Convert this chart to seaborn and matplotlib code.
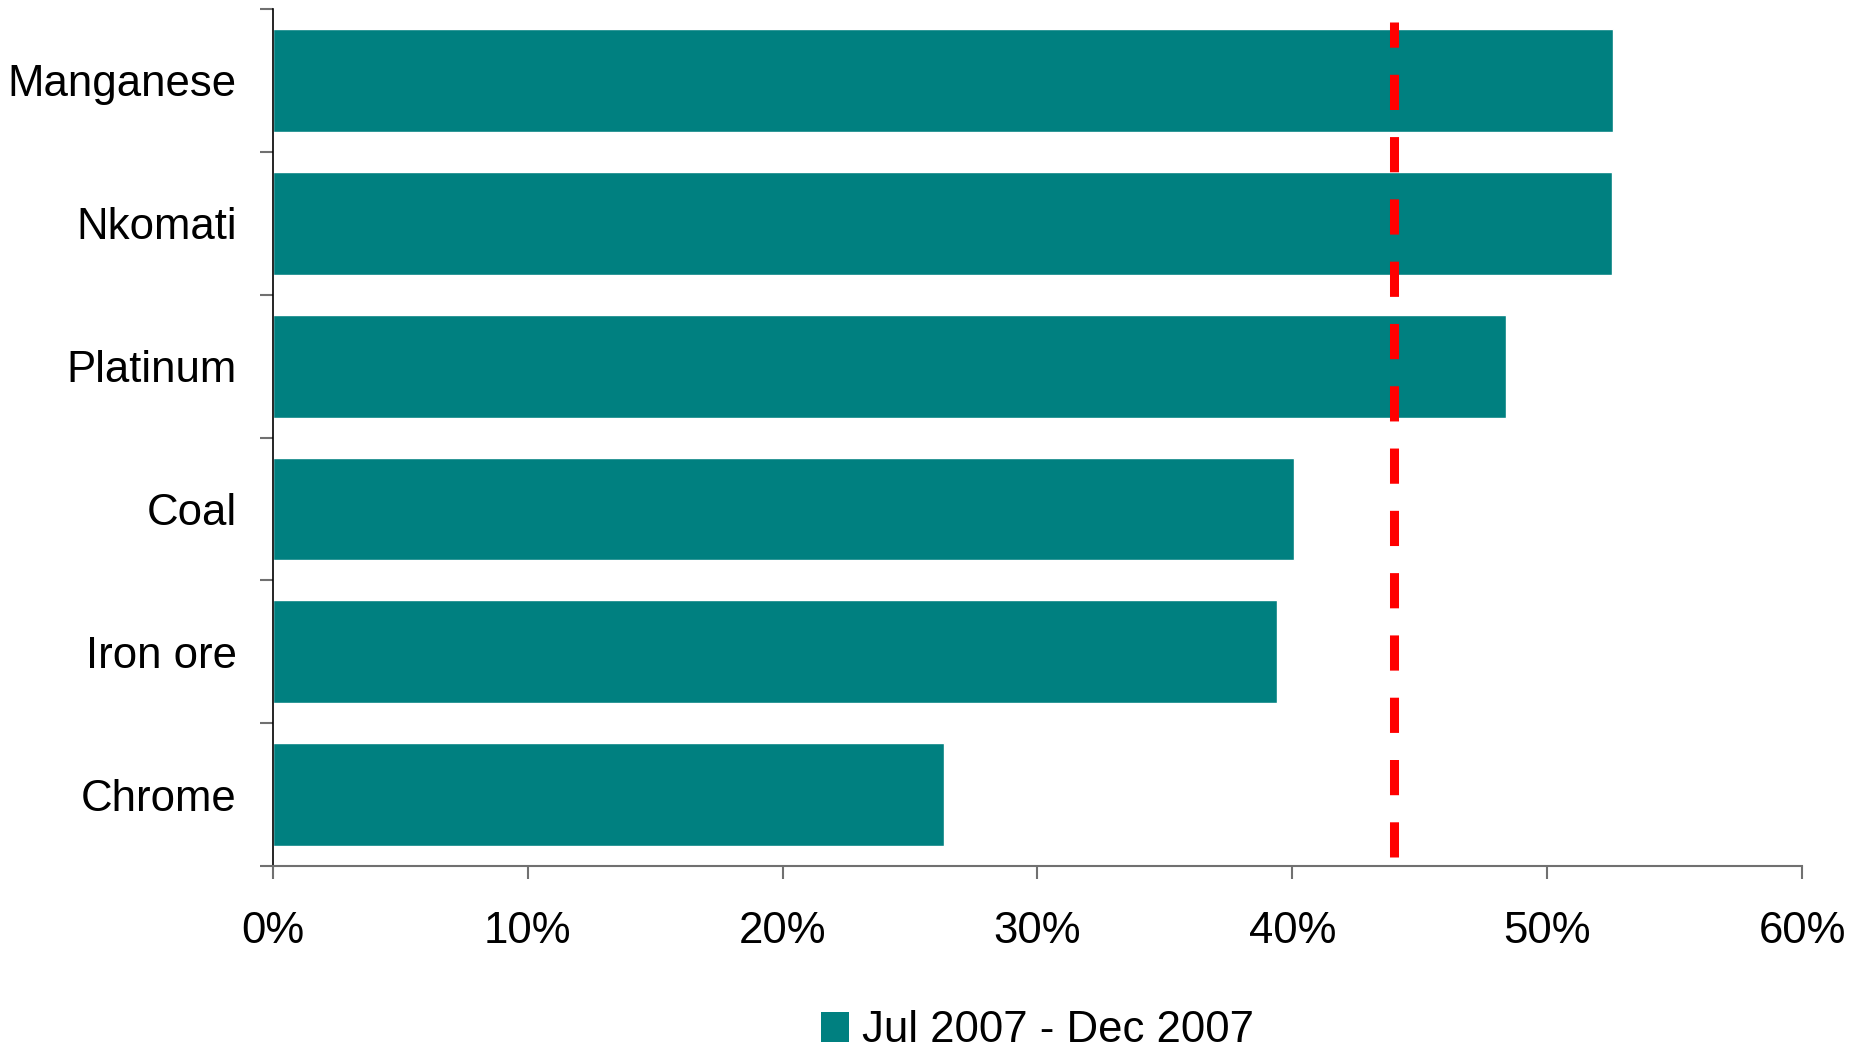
import matplotlib
matplotlib.use("Agg")
import matplotlib.pyplot as plt
from matplotlib.patches import Patch
from matplotlib.ticker import FixedLocator, PercentFormatter
import seaborn as sns
import pandas as pd

# Share of period for each commodity division
categories = ["Manganese", "Nkomati", "Platinum", "Coal", "Iron ore", "Chrome"]
values = [52.6, 52.55, 48.4, 40.05, 39.4, 26.35]
reference_level = 44.0
series_label = "Jul 2007 - Dec 2007"
x_ticks = [0, 10, 20, 30, 40, 50, 60]

bar_color = "#008080"
font_size = 31.5

sns.set_theme(style="white")
plt.rcParams["font.family"] = ["Liberation Sans", "DejaVu Sans"]
plt.rcParams["text.color"] = "black"

df = pd.DataFrame({"division": categories, "share": values})

fig = plt.figure(figsize=(18.66, 10.52), dpi=100)
ax = fig.add_axes([0.1463, 0.1768, 0.8194, 0.8146])

sns.barplot(data=df, x="share", y="division", orient="h", color=bar_color,
            saturation=1, width=0.72, ax=ax)

ax.set_xlim(0, 60)
ax.set_ylim(len(categories) - 0.5, -0.5)
ax.set_xlabel("")
ax.set_ylabel("")

ax.xaxis.set_major_locator(FixedLocator(x_ticks))
ax.xaxis.set_major_formatter(PercentFormatter(decimals=0))

# Category ticks sit between bars, labels stay centred on bars
ax.yaxis.set_minor_locator(FixedLocator([i - 0.5 for i in range(len(categories) + 1)]))
ax.tick_params(axis="y", which="major", length=0, pad=26, labelsize=font_size, labelcolor="black")
ax.tick_params(axis="y", which="minor", left=True, length=9.5, width=1.5, color="#707070")
ax.tick_params(axis="x", which="major", bottom=True, length=9.5, width=1.5,
               color="#707070", pad=23, labelsize=font_size, labelcolor="black")

for side in ["top", "right"]:
    ax.spines[side].set_visible(False)
ax.spines["left"].set_color("black")
ax.spines["left"].set_linewidth(1.2)
ax.spines["bottom"].set_color("#707070")
ax.spines["bottom"].set_linewidth(1.5)

ax.axvline(reference_level, ymin=0.01, ymax=0.985, color="#ff0000",
           linewidth=6.5, dashes=(3.9, 3.0), solid_capstyle="butt",
           dash_capstyle="butt", zorder=5)

# Legend centred under the plotting area
handles = [Patch(facecolor=bar_color, edgecolor="none", label=series_label)]
ax_mid = (0.1463 + 0.1463 + 0.8194) / 2
fig.legend(handles=handles, loc="center", bbox_to_anchor=(ax_mid, 0.02),
           frameon=False, fontsize=font_size, labelcolor="black",
           handlelength=0.65, handleheight=0.65, handletextpad=0.3,
           borderpad=0, borderaxespad=0)

fig.savefig("out.png", dpi=100)
